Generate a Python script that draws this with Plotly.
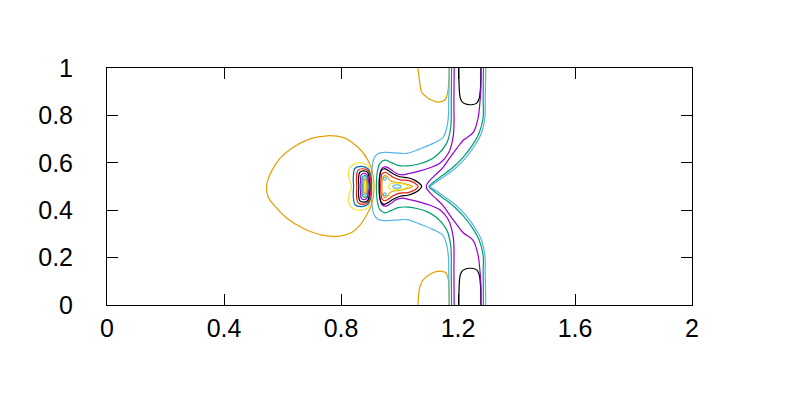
import plotly.graph_objects as go

PURPLE = "#9400D3"
GREEN = "#009E73"
LBLUE = "#56B4E9"
ORANGE = "#E69F00"
YELLOW = "#F0E442"
BLUE = "#0072B2"
RED = "#E51E10"
BLACK = "#000000"

x_ticks = [0, 0.4, 0.8, 1.2, 1.6, 2]
x_tick_labels = ["0", "0.4", "0.8", "1.2", "1.6", "2"]
y_ticks = [0, 0.2, 0.4, 0.6, 0.8, 1]
y_tick_labels = ["0", "0.2", "0.4", "0.6", "0.8", "1"]

# ---- contour lines (data units) ----
orange_loop_x = [0.913, 0.906, 0.892, 0.868, 0.838, 0.807, 0.752, 0.694, 0.636, 0.591, 0.564, 0.547,
                 0.550, 0.574, 0.615, 0.670, 0.735, 0.797, 0.838, 0.865, 0.889, 0.906, 0.913]
orange_loop_y = [0.500, 0.568, 0.611, 0.653, 0.686, 0.707, 0.714, 0.701, 0.665, 0.619, 0.568, 0.514,
                 0.459, 0.417, 0.366, 0.324, 0.295, 0.291, 0.307, 0.337, 0.383, 0.429, 0.500]

orange_top_x = [1.063, 1.068, 1.076, 1.093, 1.115, 1.133, 1.156, 1.165, 1.169, 1.170]
orange_top_y = [1.0, 0.95, 0.898, 0.877, 0.862, 0.856, 0.866, 0.90, 0.95, 1.0]
orange_bot_x = [1.063, 1.066, 1.070, 1.080, 1.109, 1.138, 1.158, 1.167, 1.169, 1.170]
orange_bot_y = [0.0, 0.05, 0.078, 0.105, 0.133, 0.143, 0.136, 0.105, 0.05, 0.0]

black_top_x = [1.203, 1.204, 1.207, 1.214, 1.224, 1.240, 1.252, 1.264, 1.272, 1.277, 1.278]
black_top_y = [1.0, 0.92, 0.877, 0.857, 0.849, 0.845, 0.846, 0.852, 0.870, 0.919, 1.0]
black_bot_x = [1.203, 1.204, 1.207, 1.214, 1.224, 1.240, 1.252, 1.264, 1.272, 1.277, 1.278]
black_bot_y = [0.0, 0.08, 0.123, 0.143, 0.151, 0.155, 0.154, 0.148, 0.130, 0.081, 0.0]

lblue_left_x = [1.170, 1.169, 1.168, 1.167, 1.161, 1.149, 1.115, 1.070, 1.026, 0.985, 0.950, 0.926, 0.913, 0.906, 0.904,
                0.906, 0.913, 0.926, 0.950, 0.985, 1.026, 1.070, 1.115, 1.149, 1.161, 1.167, 1.168, 1.169, 1.170]
lblue_left_y = [1.0, 0.907, 0.842, 0.792, 0.745, 0.707, 0.682, 0.659, 0.640, 0.642, 0.644, 0.638, 0.619, 0.577, 0.5,
                0.423, 0.381, 0.362, 0.356, 0.358, 0.360, 0.341, 0.318, 0.293, 0.255, 0.208, 0.158, 0.093, 0.0]

green_left_x = [1.178, 1.177, 1.175, 1.161, 1.128, 1.097, 1.063, 1.029, 0.995, 0.971, 0.950, 0.933, 0.925, 0.921,
                0.925, 0.933, 0.950, 0.971, 0.995, 1.029, 1.063, 1.097, 1.128, 1.161, 1.175, 1.177, 1.178]
green_left_y = [1.0, 0.863, 0.749, 0.682, 0.632, 0.608, 0.594, 0.587, 0.589, 0.602, 0.611, 0.598, 0.568, 0.5,
                0.432, 0.402, 0.389, 0.398, 0.411, 0.413, 0.406, 0.392, 0.368, 0.318, 0.251, 0.137, 0.0]

purple_left_x = [1.187, 1.186, 1.184, 1.167, 1.138, 1.104, 1.070, 1.036, 1.009, 0.988, 0.971, 0.954, 0.940, 0.933, 0.932,
                 0.933, 0.940, 0.954, 0.971, 0.988, 1.009, 1.036, 1.070, 1.104, 1.138, 1.167, 1.184, 1.186, 1.187]
purple_left_y = [1.0, 0.863, 0.716, 0.640, 0.598, 0.579, 0.566, 0.556, 0.549, 0.556, 0.571, 0.583, 0.577, 0.547, 0.5,
                 0.453, 0.423, 0.417, 0.429, 0.444, 0.451, 0.444, 0.434, 0.421, 0.402, 0.360, 0.284, 0.137, 0.0]

purple_right_x = [1.279, 1.278, 1.274, 1.269, 1.252, 1.218, 1.196, 1.173, 1.149, 1.121, 1.101, 1.091,
                  1.101, 1.121, 1.149, 1.173, 1.196, 1.218, 1.252, 1.269, 1.274, 1.278, 1.279]
purple_right_y = [1.0, 0.907, 0.842, 0.792, 0.728, 0.695, 0.661, 0.623, 0.581, 0.547, 0.522, 0.5,
                  0.478, 0.453, 0.419, 0.377, 0.339, 0.305, 0.272, 0.208, 0.158, 0.093, 0.0]

green_right_x = [1.287, 1.286, 1.286, 1.273, 1.252, 1.218, 1.184, 1.145, 1.118, 1.101,
                 1.118, 1.145, 1.184, 1.218, 1.252, 1.273, 1.286, 1.286, 1.287]
green_right_y = [1.0, 0.863, 0.792, 0.728, 0.680, 0.624, 0.582, 0.545, 0.520, 0.5,
                 0.480, 0.455, 0.418, 0.376, 0.320, 0.272, 0.208, 0.137, 0.0]

lblue_right_x = [1.295, 1.293, 1.292, 1.281, 1.258, 1.224, 1.190, 1.152, 1.125, 1.106,
                 1.125, 1.152, 1.190, 1.224, 1.258, 1.281, 1.292, 1.293, 1.295]
lblue_right_y = [1.0, 0.863, 0.792, 0.728, 0.674, 0.618, 0.576, 0.541, 0.518, 0.5,
                 0.482, 0.459, 0.424, 0.382, 0.326, 0.272, 0.208, 0.137, 0.0]

# right blob
black_rb_x = [1.076, 1.063, 1.053, 1.029, 1.002, 0.978, 0.961, 0.947, 0.937, 0.932, 0.930,
              0.932, 0.937, 0.947, 0.961, 0.978, 1.002, 1.029, 1.053, 1.063, 1.076]
black_rb_y = [0.5, 0.518, 0.526, 0.537, 0.541, 0.554, 0.568, 0.575, 0.566, 0.543, 0.5,
              0.457, 0.434, 0.425, 0.432, 0.446, 0.459, 0.463, 0.474, 0.482, 0.5]
red_rb_x = [1.064, 1.053, 1.029, 1.002, 0.978, 0.961, 0.949, 0.940, 0.937, 0.936,
            0.937, 0.940, 0.949, 0.961, 0.978, 1.002, 1.029, 1.053, 1.064]
red_rb_y = [0.5, 0.514, 0.526, 0.528, 0.539, 0.554, 0.560, 0.552, 0.531, 0.5,
            0.469, 0.448, 0.440, 0.446, 0.461, 0.472, 0.474, 0.486, 0.5]
orange_rb_x = [1.045, 1.025, 1.000, 0.978, 0.966, 0.958, 0.949, 0.942, 0.940,
               0.942, 0.949, 0.958, 0.966, 0.978, 1.000, 1.025, 1.045]
orange_rb_y = [0.5, 0.509, 0.516, 0.520, 0.527, 0.542, 0.546, 0.535, 0.5,
               0.465, 0.454, 0.458, 0.473, 0.480, 0.484, 0.491, 0.5]
yellow_rb_x = [1.030, 1.009, 0.985, 0.968, 0.962, 0.968, 0.985, 1.009, 1.030]
yellow_rb_y = [0.5, 0.511, 0.514, 0.511, 0.5, 0.489, 0.486, 0.489, 0.5]
lblue_ell_x = [1.005, 1.001, 0.991, 0.981, 0.977, 0.981, 0.991, 1.001, 1.005]
lblue_ell_y = [0.5, 0.505, 0.507, 0.505, 0.5, 0.495, 0.493, 0.495, 0.5]
lblue_c1_x = [0.955, 0.9535, 0.950, 0.9465, 0.945, 0.9465, 0.950, 0.9535, 0.955]
lblue_c1_y = [0.533, 0.537, 0.539, 0.537, 0.533, 0.529, 0.527, 0.529, 0.533]
lblue_c2_x = [0.955, 0.9535, 0.950, 0.9465, 0.945, 0.9465, 0.950, 0.9535, 0.955]
lblue_c2_y = [0.467, 0.471, 0.473, 0.471, 0.467, 0.463, 0.461, 0.463, 0.467]

# left blob (nested loops)
yellow_lb_x = [0.892, 0.872, 0.853, 0.831, 0.825, 0.836, 0.825, 0.831, 0.853, 0.872, 0.892, 0.903, 0.906, 0.903, 0.892]
yellow_lb_y = [0.589, 0.600, 0.599, 0.582, 0.547, 0.5, 0.453, 0.418, 0.401, 0.400, 0.411, 0.451, 0.5, 0.549, 0.589]
blue_lb_x = [0.848, 0.842, 0.843, 0.842, 0.848, 0.871, 0.892, 0.903, 0.904, 0.903, 0.892, 0.871, 0.848]
blue_lb_y = [0.577, 0.539, 0.5, 0.461, 0.423, 0.415, 0.425, 0.46, 0.5, 0.54, 0.575, 0.585, 0.577]
red_lb_x = [0.858, 0.853, 0.854, 0.853, 0.858, 0.875, 0.892, 0.901, 0.903, 0.901, 0.892, 0.875, 0.858]
red_lb_y = [0.568, 0.534, 0.5, 0.466, 0.432, 0.425, 0.433, 0.466, 0.5, 0.534, 0.567, 0.575, 0.568]
black_lb_x = [0.864, 0.860, 0.861, 0.860, 0.864, 0.877, 0.891, 0.897, 0.899, 0.897, 0.891, 0.877, 0.864]
black_lb_y = [0.560, 0.530, 0.5, 0.470, 0.440, 0.434, 0.440, 0.470, 0.5, 0.530, 0.560, 0.566, 0.560]
purple_lb_x = [0.869, 0.867, 0.868, 0.867, 0.869, 0.879, 0.889, 0.894, 0.896, 0.894, 0.889, 0.879, 0.869]
purple_lb_y = [0.549, 0.525, 0.5, 0.475, 0.451, 0.445, 0.451, 0.475, 0.5, 0.525, 0.549, 0.555, 0.549]
green_lb_x = [0.874, 0.872, 0.873, 0.872, 0.874, 0.882, 0.889, 0.891, 0.892, 0.891, 0.889, 0.882, 0.874]
green_lb_y = [0.540, 0.520, 0.5, 0.480, 0.460, 0.454, 0.460, 0.480, 0.5, 0.520, 0.540, 0.546, 0.540]
lblue_lb_x = [0.877, 0.875, 0.876, 0.875, 0.877, 0.882, 0.887, 0.889, 0.889, 0.889, 0.887, 0.882, 0.877]
lblue_lb_y = [0.532, 0.516, 0.5, 0.484, 0.468, 0.463, 0.468, 0.484, 0.5, 0.516, 0.532, 0.537, 0.532]
orange_lb_x = [0.879, 0.878, 0.879, 0.8825, 0.886, 0.887, 0.886, 0.8825, 0.879]
orange_lb_y = [0.525, 0.5, 0.475, 0.471, 0.475, 0.5, 0.525, 0.529, 0.525]
yellow_lb2_x = [0.881, 0.880, 0.881, 0.8825, 0.884, 0.885, 0.884, 0.8825, 0.881]
yellow_lb2_y = [0.516, 0.5, 0.484, 0.480, 0.484, 0.5, 0.516, 0.520, 0.516]

curves = [
    (orange_loop_x, orange_loop_y, ORANGE),
    (orange_top_x, orange_top_y, ORANGE),
    (orange_bot_x, orange_bot_y, ORANGE),
    (black_top_x, black_top_y, BLACK),
    (black_bot_x, black_bot_y, BLACK),
    (lblue_left_x, lblue_left_y, LBLUE),
    (green_left_x, green_left_y, GREEN),
    (purple_left_x, purple_left_y, PURPLE),
    (purple_right_x, purple_right_y, PURPLE),
    (green_right_x, green_right_y, GREEN),
    (lblue_right_x, lblue_right_y, LBLUE),
    (black_rb_x, black_rb_y, BLACK),
    (red_rb_x, red_rb_y, RED),
    (orange_rb_x, orange_rb_y, ORANGE),
    (yellow_rb_x, yellow_rb_y, YELLOW),
    (lblue_ell_x, lblue_ell_y, LBLUE),
    (lblue_c1_x, lblue_c1_y, LBLUE),
    (lblue_c2_x, lblue_c2_y, LBLUE),
    (yellow_lb_x, yellow_lb_y, YELLOW),
    (blue_lb_x, blue_lb_y, BLUE),
    (red_lb_x, red_lb_y, RED),
    (black_lb_x, black_lb_y, BLACK),
    (purple_lb_x, purple_lb_y, PURPLE),
    (green_lb_x, green_lb_y, GREEN),
    (lblue_lb_x, lblue_lb_y, LBLUE),
    (orange_lb_x, orange_lb_y, ORANGE),
    (yellow_lb2_x, yellow_lb2_y, YELLOW),
]

fig = go.Figure()
for xs, ys, col in curves:
    fig.add_trace(go.Scatter(x=xs, y=ys, mode="lines",
                             line=dict(color=col, width=1.2, shape="spline", smoothing=1.0),
                             showlegend=False, hoverinfo="skip"))

axis_common = dict(showline=True, linecolor="black", linewidth=1, mirror="ticks",
                   ticks="inside", ticklen=11, tickcolor="black", tickwidth=1,
                   showgrid=False, zeroline=False, automargin=False,
                   tickfont=dict(family="Liberation Sans, Arial, sans-serif", size=25, color="black"))

fig.update_layout(
    width=800, height=400,
    margin=dict(l=99, r=116, t=60, b=103),
    paper_bgcolor="white", plot_bgcolor="white",
    xaxis=dict(range=[0, 2], tickvals=x_ticks, ticktext=x_tick_labels,
               ticklabelstandoff=1, **axis_common),
    yaxis=dict(range=[0, 1], tickvals=y_ticks, ticktext=y_tick_labels,
               ticklabelstandoff=28, **axis_common),
)

fig.write_html("out.html")
